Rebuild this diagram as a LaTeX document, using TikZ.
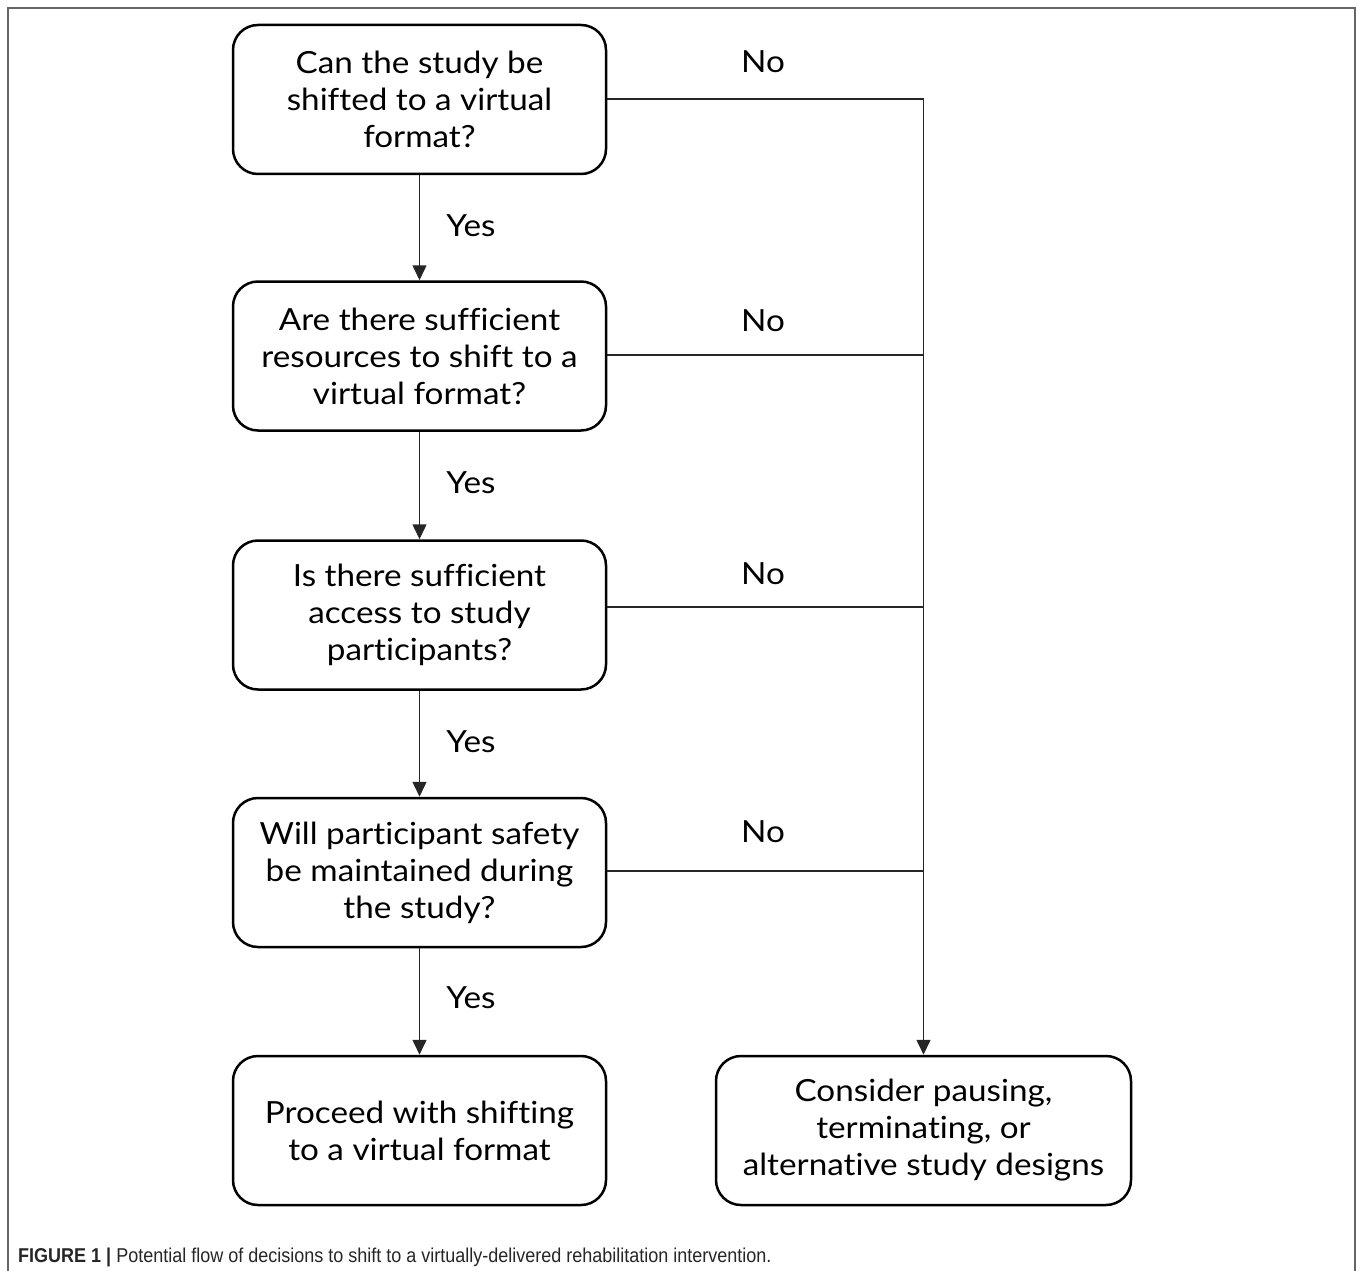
\documentclass[tikz,border=0pt]{standalone}
\usepackage{fontspec}
\setmainfont[Ligatures=NoCommon, FakeStretch=1.09]{Lato}
\newfontfamily\capfont[FakeStretch=0.9]{Liberation Sans}
\usetikzlibrary{arrows.meta}
\begin{document}
\begin{tikzpicture}[x=1pt,y=-1pt,
  box/.style={draw, line width=2.5pt, rounded corners=25pt, minimum width=373pt,
    minimum height=149pt, align=center, inner sep=0pt,
    font=\fontsize{30.5}{37}\selectfont},
  lbl/.style={inner sep=0pt, font=\fontsize{30.5}{37}\selectfont},
  conn/.style={line width=1.5pt, draw=black!85},
  arr/.style={conn, -{Triangle[length=15pt,width=14pt]}},
  frame/.style={line width=2pt, draw=black!60}]
\useasboundingbox (0,0) rectangle (1358,1271);
\draw[frame] (7.5,1271) -- (7.5,8) -- (1355,8) -- (1355,1271);

\node[box] (q1) at (419.5,99.5) {Can the study be\\shifted to a virtual\\format?};
\node[box] (q2) at (419.5,356) {Are there sufficient\\resources to shift to a\\virtual format?};
\node[box] (q3) at (419.5,615) {Is there sufficient\\access to study\\participants?};
\node[box] (q4) at (419.5,872.5) {Will participant safety\\be maintained during\\the study?};
\node[box] (q5) at (419.5,1130.5) {Proceed with shifting\\to a virtual format};
\node[box, minimum width=415pt] (alt) at (923.5,1130.5) {Consider pausing,\\terminating, or\\alternative study designs};

\coordinate (j1) at (923.5,99);
\coordinate (j2) at (923.5,355);
\coordinate (j3) at (923.5,607);
\coordinate (j4) at (923.5,871);

\draw[arr] (q1.south) -- (q2.north);
\draw[arr] (q2.south) -- (q3.north);
\draw[arr] (q3.south) -- (q4.north);
\draw[arr] (q4.south) -- (q5.north);

\draw[conn] (q1.east |- j1) -- (j1);
\draw[conn] (q2.east |- j2) -- (j2);
\draw[conn] (q3.east |- j3) -- (j3);
\draw[conn] (q4.east |- j4) -- (j4);
\draw[arr] (j1) -- (alt.north);

\node[lbl] (no1) at (763,62) {No};
\node[lbl] (no2) at (763,321) {No};
\node[lbl] (no3) at (763,574) {No};
\node[lbl] (no4) at (763,832) {No};
\node[lbl] (y1) at (471,226) {Yes};
\node[lbl] (y2) at (471,483) {Yes};
\node[lbl] (y3) at (471,742) {Yes};
\node[lbl] (y4) at (471,998) {Yes};

\node[anchor=base west, inner sep=0pt, text=black!85, font=\capfont\fontsize{20}{24}\selectfont] (cap) at (18,1262)
  {\textbf{FIGURE 1 |} Potential flow of decisions to shift to a virtually-delivered rehabilitation intervention.};
\end{tikzpicture}
\end{document}
